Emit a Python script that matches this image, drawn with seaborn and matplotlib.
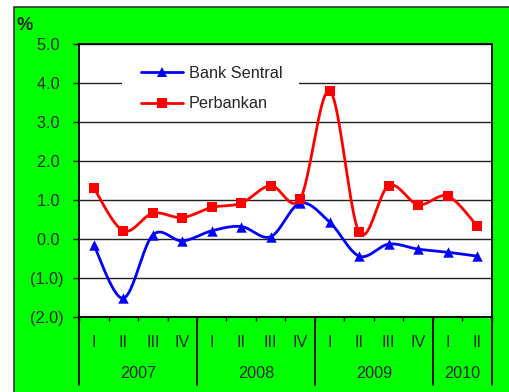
import numpy as np
import pandas as pd
import matplotlib
matplotlib.use("Agg")
import matplotlib.pyplot as plt
from matplotlib.patches import Rectangle
from matplotlib.lines import Line2D
import matplotlib.transforms as mtransforms
import seaborn as sns

# ---------------- data ----------------
years = ["2007", "2008", "2009", "2010"]
quarters_per_year = [4, 4, 4, 2]
quarter_labels = ["I", "II", "III", "IV", "I", "II", "III", "IV",
                  "I", "II", "III", "IV", "I", "II"]
bank_sentral = [-0.15, -1.52, 0.10, -0.05, 0.21, 0.32, 0.06, 0.92,
                0.43, -0.44, -0.13, -0.26, -0.34, -0.44]
perbankan = [1.31, 0.21, 0.66, 0.55, 0.81, 0.92, 1.37, 1.03,
             3.80, 0.17, 1.37, 0.88, 1.10, 0.33]
y_ticks = [-2, -1, 0, 1, 2, 3, 4, 5]

sns.set_style("white")
plt.rcParams["font.family"] = ["Liberation Sans", "DejaVu Sans"]
FS = 11.7

W, H = 510, 392
fig = plt.figure(figsize=(W / 100, H / 100), dpi=100)
fig.patch.set_facecolor("white")
bg = Rectangle((14 / W, -0.02), 1.0, (H - 7) / H + 0.02, transform=fig.transFigure,
               facecolor="#00ff00", edgecolor="#333333", linewidth=1.2, zorder=0)
fig.add_artist(bg)

L, T, R, B = 79, 44, 492, 317
ax = fig.add_axes([L / W, (H - B) / H, (R - L) / W, (B - T) / H])
ax.set_facecolor("white")


def smooth(vals, n=24):
    """Excel-like smoothed line (Catmull-Rom as cubic Bezier)."""
    p = np.array(vals, dtype=float)
    x = np.arange(len(p), dtype=float)
    xs, ys = [], []
    for i in range(len(p) - 1):
        i0 = max(i - 1, 0)
        i3 = min(i + 2, len(p) - 1)
        P0 = np.array([x[i], p[i]])
        P3 = np.array([x[i + 1], p[i + 1]])
        P1 = P0 + (np.array([x[i + 1], p[i + 1]]) - np.array([x[i0], p[i0]])) / 6
        P2 = P3 - (np.array([x[i3], p[i3]]) - np.array([x[i], p[i]])) / 6
        t = np.linspace(0, 1, n, endpoint=(i == len(p) - 2))[:, None]
        c = ((1 - t) ** 3) * P0 + 3 * ((1 - t) ** 2) * t * P1 + 3 * (1 - t) * t ** 2 * P2 + t ** 3 * P3
        xs.extend(c[:, 0]); ys.extend(c[:, 1])
    return np.array(xs), np.array(ys)


series = [("Bank Sentral", bank_sentral, "#0000ff", "^", 7.5),
          ("Perbankan", perbankan, "#ff0000", "s", 6.5)]
xpos = np.arange(len(quarter_labels))
for name, vals, col, mk, ms in series:
    sx, sy = smooth(vals)
    sns.lineplot(x=sx, y=sy, ax=ax, color=col, linewidth=2.0, sort=False,
                 estimator=None, zorder=3)
    sns.scatterplot(x=xpos, y=vals, ax=ax, color=col, marker=mk, s=ms ** 2,
                    linewidth=0, zorder=4)

ax.set_xlim(-0.5, len(quarter_labels) - 0.5)
ax.set_ylim(-2, 5)

# y axis
ax.set_yticks(y_ticks)
ax.set_yticklabels([f"({abs(v):.1f})" if v < 0 else f"{v:.1f} " for v in y_ticks],
                   fontsize=FS)
ax.yaxis.grid(True, color="#222222", linewidth=1.0, zorder=1)
ax.set_axisbelow(True)
ax.tick_params(axis="y", direction="out", length=4, width=1.0, color="black", pad=7,
               left=True)

# x axis
ax.set_xticks(xpos)
ax.set_xticklabels(quarter_labels, fontsize=FS)
ax.set_xticks(np.arange(-0.5, len(quarter_labels), 0.5), minor=True)
ax.tick_params(axis="x", which="major", length=0, pad=13, bottom=True)
ax.tick_params(axis="x", which="minor", direction="out", length=3, width=1.0,
               color="black", bottom=True)

for s in ax.spines.values():
    s.set_color("black")
    s.set_linewidth(1.3)

trans = mtransforms.blended_transform_factory(ax.transData, ax.transAxes)
bounds = np.concatenate([[0], np.cumsum(quarters_per_year)]) - 0.5
for b in bounds:
    ax.plot([b, b], [0, -(385 - B) / (B - T)], transform=trans, color="black",
            linewidth=1.3, clip_on=False, zorder=5)
for i, yr in enumerate(years):
    cx = (bounds[i] + bounds[i + 1]) / 2
    ax.text(cx, -(374 - B) / (B - T), yr, transform=trans, ha="center",
            va="center", fontsize=FS)

# % label
fig.text(17 / W, 1 - 26 / H, "%", fontsize=FS + 1.5, fontweight="bold",
         ha="left", va="center")

# legend
ax.add_patch(Rectangle(((122 - L) / (R - L), (B - 117) / (B - T)),
                       (299 - 122) / (R - L), (117 - 55) / (B - T),
                       transform=ax.transAxes, facecolor="white",
                       edgecolor="none", zorder=2))
handles = [Line2D([], [], color=c, marker=m, markersize=ms, linewidth=2.0,
                  markeredgewidth=0) for _, _, c, m, ms in series]
ax.legend(handles, [s[0] for s in series], loc="upper left",
          bbox_to_anchor=((141 - L) / (R - L) - 0.012, (B - 61) / (B - T)),
          frameon=False, fontsize=FS, handlelength=2.6, handletextpad=0.35,
          labelspacing=0.95, borderaxespad=0, borderpad=0.3)

fig.savefig("out.png", dpi=100)
